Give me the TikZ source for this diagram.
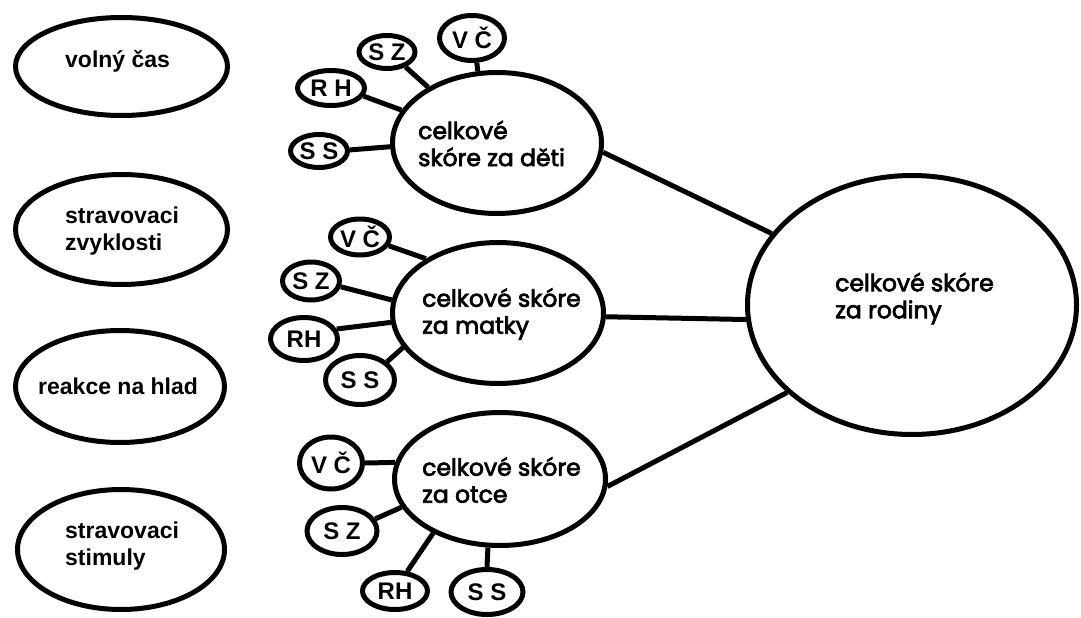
\documentclass[tikz,border=0pt]{standalone}
\usepackage{fontspec}
\usetikzlibrary{shapes.geometric}
\newfontfamily\arb{Liberation Sans}
\newfontfamily\pop{Poppins}[FakeBold=3]
\begin{document}
\begin{tikzpicture}[x=1pt,y=-1pt,
  ell/.style={ellipse,draw,line width=5pt,inner sep=0pt},
  lbl/.style={font=\arb\bfseries\fontsize{23}{27}\selectfont,align=left,inner sep=0pt,anchor=west},
  sml/.style={font=\arb\bfseries\fontsize{24}{27}\selectfont,inner sep=0pt},
  ctx/.style={font=\pop\fontsize{23.5}{27}\selectfont,align=left,inner sep=0pt,anchor=west},
  con/.style={line width=5pt}]
\useasboundingbox[fill=white] (0,0) rectangle (1081,618);

% left ellipses
\node[ell,minimum width=212pt,minimum height=98pt] (L1) at (121.5,66.5) {};
\node[ell,minimum width=212pt,minimum height=110pt] (L2) at (121.5,229.5) {};
\node[ell,minimum width=209pt,minimum height=112pt] (L3) at (120,386.5) {};
\node[ell,minimum width=207pt,minimum height=120pt] (L4) at (121,549.5) {};
\node[lbl] (L1t) at (65,61) {volný čas};
\node[lbl] (L2t) at (65,231.5) {stravovaci\\zvyklosti};
\node[lbl] (L3t) at (38,386) {reakce na hlad};
\node[lbl] (L4t) at (65,546.5) {stravovaci\\stimuly};

% middle ellipses
\node[ell,minimum width=209pt,minimum height=141pt] (D) at (497,143) {};
\node[ell,minimum width=211pt,minimum height=141pt] (M) at (498,313) {};
\node[ell,minimum width=211pt,minimum height=133pt] (O) at (500,479) {};
\node[ell,minimum width=329pt,minimum height=259pt] (R) at (912,305) {};
\node[ctx] (Dt) at (418,143.5) {celkové\\skóre za děti};
\node[ctx] (Mt) at (422,314) {celkové skóre\\za matky};
\node[ctx] (Ot) at (422,480) {celkové skóre\\za otce};
\node[ctx] (Rt) at (835,298.5) {celkové skóre\\za rodiny};

% small ellipses - deti
\node[ell,sml,minimum width=65pt,minimum height=45pt] (d1) at (472,38) {V Č};
\node[ell,sml,minimum width=56pt,minimum height=33pt] (d2) at (387,52) {S Z};
\node[ell,sml,minimum width=67pt,minimum height=35pt] (d3) at (331,88) {R H};
\node[ell,sml,minimum width=57pt,minimum height=33pt] (d4) at (319,151) {S S};
% matky
\node[ell,sml,minimum width=59pt,minimum height=36pt] (m1) at (360,237) {V Č};
\node[ell,sml,minimum width=57pt,minimum height=38pt] (m2) at (311,281) {S Z};
\node[ell,sml,minimum width=67pt,minimum height=43pt] (m3) at (304,339) {RH};
\node[ell,sml,minimum width=69pt,minimum height=49pt] (m4) at (360,380) {S S};
% otce
\node[ell,sml,minimum width=63pt,minimum height=52pt] (o1) at (331,463) {V Č};
\node[ell,sml,minimum width=70pt,minimum height=47pt] (o2) at (342,531) {S Z};
\node[ell,sml,minimum width=65pt,minimum height=37pt] (o3) at (395,591) {RH};
\node[ell,sml,minimum width=72pt,minimum height=45pt] (o4) at (487,592) {S S};

% connectors
\draw[con] (d1.-79) -- (D.105.7);
\draw[con] (d2.-39) -- (D.141.8);
\draw[con] (d3.-14) -- (D.161.2);
\draw[con] (d4.2) -- (D.-178);
\draw[con] (m1.-17) -- (M.143.7);
\draw[con] (m2.-11) -- (M.173);
\draw[con] (m3.17) -- (M.-175);
\draw[con] (m4.34.5) -- (M.-160.5);
\draw[con] (o1.0) -- (O.171.5);
\draw[con] (o2.20) -- (O.-164);
\draw[con] (o3.58) -- (O.-141);
\draw[con] (o4.90) -- (O.-100.7);
\draw[con] (D.-5) -- (R.153.4);
\draw[con] (M.-2.7) -- (R.-175.5);
\draw[con] (O.-4.3) -- (R.-145.3);
\end{tikzpicture}
\end{document}
